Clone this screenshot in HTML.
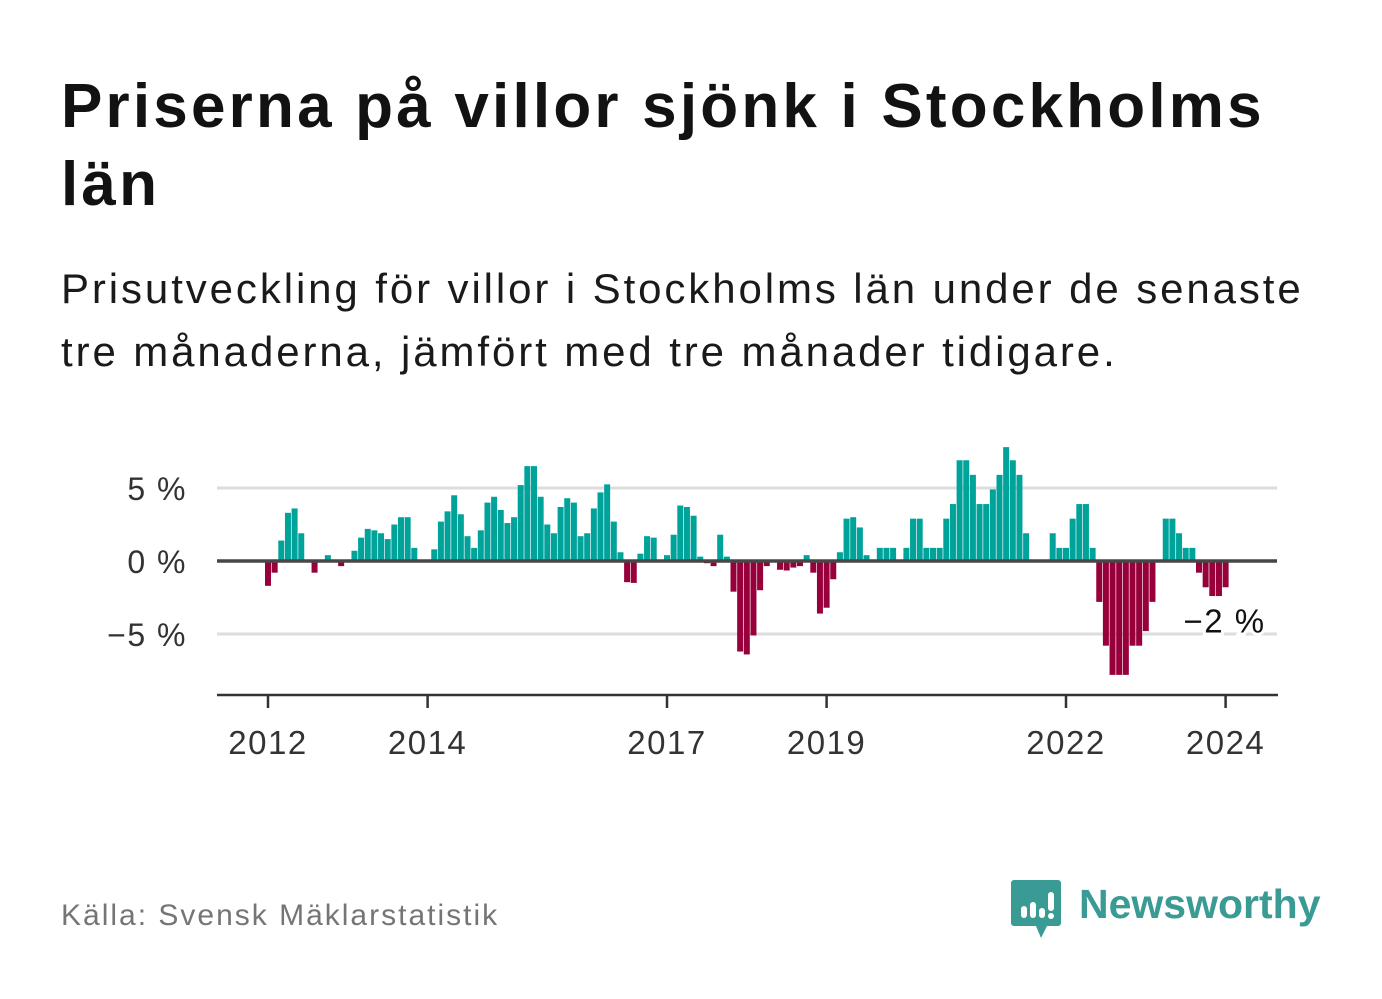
<!DOCTYPE html>
<html><head><meta charset="utf-8"><style>
html,body{margin:0;padding:0;background:#fff;width:1382px;height:999px;overflow:hidden;font-family:"Liberation Sans",sans-serif;}
.title{position:absolute;left:61px;top:68px;font-weight:bold;font-size:62px;line-height:78px;color:#121212;width:1320px;letter-spacing:3.2px;white-space:nowrap;}
.sub{position:absolute;left:61px;top:257px;font-size:42px;line-height:63px;color:#1a1a1a;width:1320px;letter-spacing:2.9px;white-space:nowrap;}
.src{position:absolute;left:61px;top:899px;font-size:30px;color:#757575;letter-spacing:2px;}
</style></head><body>
<div class="title">Priserna på villor sjönk i Stockholms<br>län</div>
<div class="sub">Prisutveckling för villor i Stockholms län under de senaste<br>tre månaderna, jämfört med tre månader tidigare.</div>
<svg id="chart" width="1382" height="999" style="position:absolute;left:0;top:0"></svg>
<div class="src">Källa: Svensk Mäklarstatistik</div>
<div style="position:absolute;left:1011px;top:880px;width:310px;height:60px;">
<svg width="52" height="60" style="position:absolute;left:0;top:0"><path d="M3 0h44a3 3 0 0 1 3 3v40a3 3 0 0 1-3 3H36L30 58l-5-12H3a3 3 0 0 1-3-3V3a3 3 0 0 1 3-3z" fill="#3a9a94"/><rect x="10" y="26" width="6" height="12" rx="3" fill="#fff"/><rect x="19" y="22" width="6" height="16" rx="3" fill="#fff"/><rect x="28" y="28" width="6" height="10" rx="3" fill="#fff"/><rect x="37" y="12" width="6" height="19" rx="3" fill="#fff"/><circle cx="40" cy="36" r="3" fill="#fff"/></svg>
<div style="position:absolute;left:68px;top:1px;font-size:41px;font-weight:bold;color:#3a9a94;">Newsworthy</div></div>
<script>
const values=[-1.7,-0.8,1.4,3.3,3.6,1.9,0,-0.8,0,0.4,0,-0.35,0,0.7,1.6,2.2,2.1,1.9,1.5,2.5,3.0,3.0,0.9,0,0,0.8,2.7,3.4,4.5,3.2,1.7,0.9,2.1,4.0,4.4,3.5,2.6,3.0,5.2,6.5,6.5,4.4,2.5,1.9,3.7,4.3,4.0,1.7,1.9,3.6,4.7,5.25,2.7,0.6,-1.45,-1.5,0.5,1.7,1.6,0,0.4,1.8,3.8,3.7,3.1,0.3,-0.15,-0.35,1.8,0.3,-2.1,-6.2,-6.4,-5.1,-2.0,-0.35,0,-0.6,-0.65,-0.45,-0.35,0.4,-0.8,-3.6,-3.2,-1.25,0.6,2.9,3.0,2.3,0.4,0,0.9,0.9,0.9,0,0.9,2.9,2.9,0.9,0.9,0.9,2.9,3.9,6.9,6.9,5.9,3.9,3.9,4.9,5.9,7.8,6.9,5.9,1.9,0,0,0,1.9,0.9,0.9,2.9,3.9,3.9,0.9,-2.8,-5.8,-7.8,-7.8,-7.8,-5.8,-5.8,-4.8,-2.8,0,2.9,2.9,1.9,0.9,0.9,-0.8,-1.8,-2.4,-2.4,-1.8];
const startYear=2012;
const yTicks=[5,0,-5];
const yTickLabels=["5 %","0 %","\u22125 %"];
const xTickYears=[2012,2014,2017,2019,2022,2024];
const lastLabel="\u22122 %";
const svg=document.getElementById('chart');
const NS="http://www.w3.org/2000/svg";
const left=217,right=1277,bottom=695;
const mStep=6.65,m0=268;
function x(i){return m0+mStep*i;}
function y(v){return 561-v*14.6;}
function mk(t,a){const e=document.createElementNS(NS,t);for(const k in a)e.setAttribute(k,a[k]);svg.appendChild(e);return e;}
yTicks.forEach((t,k)=>{
 if(t!==0){const g=mk('line',{x1:left,x2:right,y1:y(t),y2:y(t),stroke:'#dddddd','stroke-width':3});
 
 }
 const l=mk('text',{x:187,y:y(t)+12,'text-anchor':'end','font-size':32,'letter-spacing':1.5,fill:'#333','font-family':'Liberation Sans, sans-serif'});
 l.textContent=yTickLabels[k];
 
 
});
values.forEach((v,i)=>{
 if(v===0)return;
 const r=mk('rect',{x:x(i)-3,width:6,y:v>0?y(v):y(0),height:Math.abs(y(v)-y(0)),fill:v>0?'#00a39a':'#98003c'});
 
 
});
const z=mk('line',{x1:left,x2:right,y1:y(0),y2:y(0),stroke:'#474747','stroke-width':3.5});


const ax=mk('line',{x1:left,x2:right+1,y1:bottom,y2:bottom,stroke:'#333','stroke-width':2.5});


xTickYears.forEach(yr=>{
 const xx=x((yr-startYear)*12);
 const t=mk('line',{x1:xx,x2:xx,y1:bottom,y2:bottom+13,stroke:'#333','stroke-width':2.5});
 
 
 const l=mk('text',{x:xx,y:bottom+59,'text-anchor':'middle','font-size':33,'letter-spacing':1.5,fill:'#333','font-family':'Liberation Sans, sans-serif'});
 l.textContent=yr;
 
 
});
const li=values.length-1;
const lb=mk('text',{x:x(li)+40,y:y(values[li])+45,'text-anchor':'end','font-size':33,'letter-spacing':1.5,fill:'#111',stroke:'#fff','stroke-width':6,'paint-order':'stroke','font-family':'Liberation Sans, sans-serif'});
lb.textContent=lastLabel;


</script>
</body></html>
